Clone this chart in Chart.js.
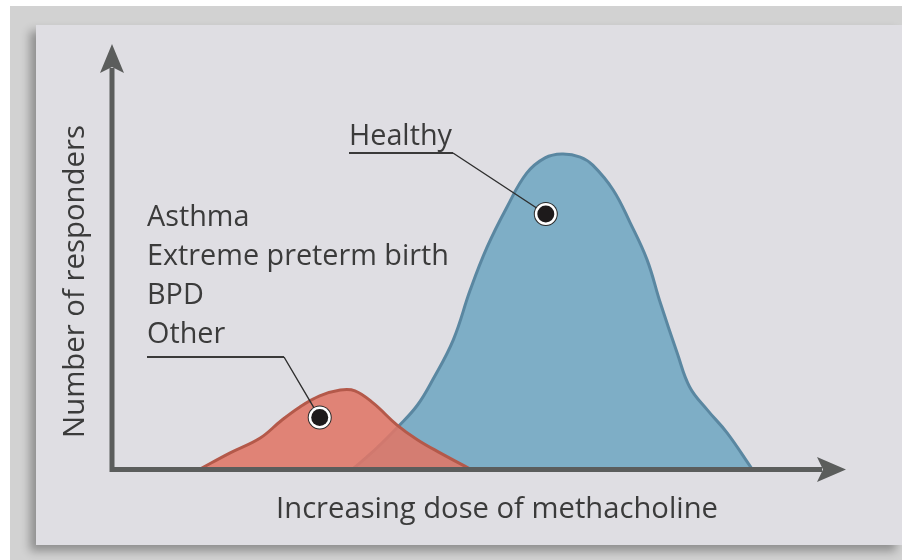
<!DOCTYPE html>
<html>
<head>
<meta charset="utf-8">
<script src="https://cdn.jsdelivr.net/npm/chart.js@4"></script>
<style>
  body { margin: 0; background: #fff; width: 902px; height: 560px; overflow: hidden; position: relative; }
  #outer { position: absolute; left: 10px; top: 6px; width: 892px; height: 554px; background: #d2d2d2; }
  #panel { position: absolute; left: 36px; top: 25px; width: 866px; height: 520px; background: #dfdee3;
           box-shadow: -6px 6px 9px rgba(0, 0, 0, 0.32); }
  canvas { position: absolute; left: 0; top: 0; }
</style>
</head>
<body>
<div id="outer"></div>
<div id="panel"></div>
<canvas id="chart" width="902" height="560"></canvas>
<script>
// Data (dose and responders on a 0-100 scale)
const doseHealthy = [32.8, 35.8, 39.0, 41.6, 43.7, 46.5, 48.8, 51.1, 53.8, 56.5, 59.0, 61.3, 63.8, 65.5, 68.3, 70.6, 72.9, 74.7, 77.0, 78.7, 81.1, 83.8, 87.2];
const respHealthy = [0, 4.5, 10.0, 15.0, 21.0, 30.4, 42.1, 52.2, 61.6, 69.6, 73.2, 74.1, 73.4, 71.5, 65.6, 57.9, 49.2, 39.1, 27.3, 19.3, 13.9, 8.5, 0];

const doseOther = [12.0, 16.1, 20.2, 23.0, 25.6, 28.3, 31.1, 33.1, 35.6, 38.8, 41.6, 44.7, 48.8];
const respOther = [0, 3.8, 7.3, 11.3, 14.6, 17.2, 18.6, 18.4, 15.5, 10.4, 6.9, 3.8, 0];

const groupLabels = ['Asthma', 'Extreme preterm birth', 'BPD', 'Other'];
const healthyLabel = 'Healthy';
const xTitle = 'Increasing dose of methacholine';
const yTitle = 'Number of responders';

// where the marker dots sit, in data units
const healthyDot = { x: 59.1, y: 60.0 };
const otherDot = { x: 28.3, y: 12.1 };

const FONT = '"Open Sans", "Noto Sans", sans-serif';
const TEXT_COLOR = '#3b3b3b';
const AXIS_COLOR = '#5b5d5c';

// Font size that makes text span a given width
function fitSize(ctx, text, width) {
    ctx.font = `100px ${FONT}`;
    return 100 * width / ctx.measureText(text).width;
}

function drawDot(ctx, px, py) {
    ctx.beginPath();
    ctx.arc(px, py, 12, 0, Math.PI * 2);
    ctx.fillStyle = '#2a2a2a';
    ctx.fill();
    ctx.beginPath();
    ctx.arc(px, py, 11, 0, Math.PI * 2);
    ctx.fillStyle = '#ffffff';
    ctx.fill();
    ctx.beginPath();
    ctx.arc(px, py, 8.5, 0, Math.PI * 2);
    ctx.fillStyle = '#1d1a1b';
    ctx.fill();
}

// Axes with arrows, titles and labels
const annotations = {
    id: 'annotations',
    afterDatasetsDraw(chart) {
        const { ctx, chartArea: a, scales: { x, y } } = chart;
        ctx.save();

        // axes
        const x0 = a.left, y0 = a.bottom + 0.5;
        ctx.strokeStyle = AXIS_COLOR;
        ctx.lineWidth = 5;
        ctx.lineCap = 'butt';
        ctx.beginPath();
        ctx.moveTo(x0, a.top + 24);
        ctx.lineTo(x0, y0);
        ctx.lineTo(a.right - 24, y0);
        ctx.stroke();
        ctx.fillStyle = AXIS_COLOR;
        ctx.beginPath();
        ctx.moveTo(x0, a.top);
        ctx.lineTo(x0 + 12, a.top + 29);
        ctx.lineTo(x0, a.top + 23);
        ctx.lineTo(x0 - 12, a.top + 29);
        ctx.closePath();
        ctx.fill();
        ctx.beginPath();
        ctx.moveTo(a.right, y0);
        ctx.lineTo(a.right - 29, y0 - 12.5);
        ctx.lineTo(a.right - 23, y0);
        ctx.lineTo(a.right - 29, y0 + 12.5);
        ctx.closePath();
        ctx.fill();

        ctx.fillStyle = TEXT_COLOR;
        ctx.textBaseline = 'alphabetic';

        // axis titles
        let size = fitSize(ctx, xTitle, 442);
        ctx.font = `${size}px ${FONT}`;
        ctx.textAlign = 'center';
        ctx.fillText(xTitle, 497, 518);

        size = fitSize(ctx, yTitle, 313);
        ctx.font = `${size}px ${FONT}`;
        ctx.save();
        ctx.translate(84, 281.5);
        ctx.rotate(-Math.PI / 2);
        ctx.fillText(yTitle, 0, 0);
        ctx.restore();

        // group labels
        size = fitSize(ctx, groupLabels[1], 302);
        ctx.font = `${size}px ${FONT}`;
        ctx.textAlign = 'left';
        groupLabels.forEach((lab, i) => ctx.fillText(lab, 147, 226 + i * 39));
        ctx.fillText(healthyLabel, 349, 145);

        // leader lines
        const hx = x.getPixelForValue(healthyDot.x), hy = y.getPixelForValue(healthyDot.y);
        const ox = x.getPixelForValue(otherDot.x), oy = y.getPixelForValue(otherDot.y);
        ctx.strokeStyle = '#3a3a3a';
        ctx.lineWidth = 2;
        ctx.beginPath();
        ctx.moveTo(349, 153);
        ctx.lineTo(453, 153);
        ctx.moveTo(147, 357);
        ctx.lineTo(284, 357);
        ctx.stroke();
        ctx.lineWidth = 1.4;
        ctx.strokeStyle = '#2e2e2e';
        ctx.beginPath();
        ctx.moveTo(453, 153);
        ctx.lineTo(hx, hy);
        ctx.moveTo(284, 357);
        ctx.lineTo(ox, oy);
        ctx.stroke();

        drawDot(ctx, hx, hy);
        drawDot(ctx, ox, oy);
        ctx.restore();
    }
};

const ctx = document.getElementById('chart').getContext('2d');
new Chart(ctx, {
    type: 'line',
    data: {
        datasets: [
            {
                label: 'Other',
                data: doseOther.map((d, i) => ({ x: d, y: respOther[i] })),
                backgroundColor: 'rgba(224, 118, 102, 0.88)',
                borderColor: '#b4594a',
                borderWidth: 3,
                fill: 'origin',
                tension: 0.4,
                pointRadius: 0
            },
            {
                label: 'Healthy',
                data: doseHealthy.map((d, i) => ({ x: d, y: respHealthy[i] })),
                backgroundColor: '#7eaec6',
                borderColor: '#5a87a1',
                borderWidth: 3,
                fill: 'origin',
                tension: 0.4,
                pointRadius: 0
            }
        ]
    },
    options: {
        responsive: false,
        animation: false,
        layout: { padding: { left: 112, top: 44, right: 56, bottom: 91 } },
        plugins: { legend: { display: false }, tooltip: { enabled: false } },
        scales: {
            x: { type: 'linear', min: 0, max: 100, display: false },
            y: { min: 0, max: 100, display: false }
        }
    },
    plugins: [annotations]
});
</script>
</body>
</html>
